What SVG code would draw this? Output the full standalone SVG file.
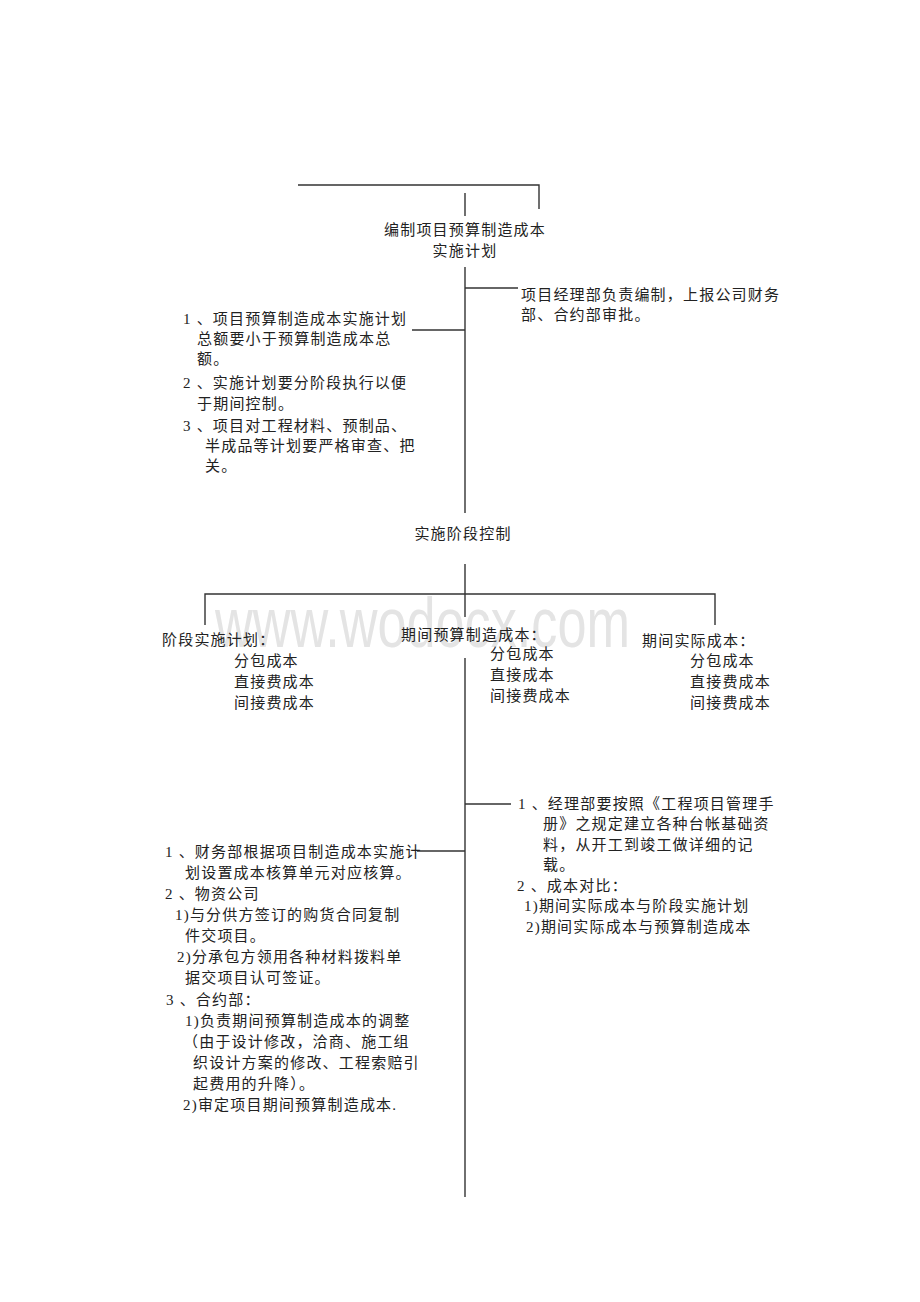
<svg xmlns="http://www.w3.org/2000/svg" width="920" height="1302" viewBox="0 0 920 1302">
<style>
.t{font-family:"Liberation Serif","Noto Sans CJK SC",sans-serif;font-size:15px;letter-spacing:1.2px;fill:#222}
.m{text-anchor:middle}
.ln{fill:none;stroke:#333;stroke-width:1.4}
.wm{font-family:"Liberation Sans",sans-serif;font-size:70px;fill:#e4e4e4}
</style>
<rect width="920" height="1302" fill="#fff"/>
<text class="wm" x="215" y="647" textLength="415" lengthAdjust="spacingAndGlyphs">www.wodocx.com</text>
<g id="connectors">
<path class="ln" d="M298 185H539V209"/>
<path class="ln" d="M465 193V216"/>
<path class="ln" d="M465 267V513"/>
<path class="ln" d="M465 288H518"/>
<path class="ln" d="M412 330H465"/>
<path class="ln" d="M465 564V617"/>
<path class="ln" d="M205 625V594H715V625"/>
<path class="ln" d="M465 658V1197"/>
<path class="ln" d="M465 804H511"/>
<path class="ln" d="M417 851H465"/>
</g>
<g id="node-plan">
<text class="t m" x="465" y="235">编制项目预算制造成本</text>
<text class="t m" x="465" y="256">实施计划</text>
</g>
<g id="node-approve">
<text class="t" x="521" y="300">项目经理部负责编制，上报公司财务</text>
<text class="t" x="521" y="320">部、合约部审批。</text>
</g>
<g id="node-plan-rules">
<text class="t" x="183" y="324">1 、项目预算制造成本实施计划</text>
<text class="t" x="197" y="344">总额要小于预算制造成本总</text>
<text class="t" x="197" y="364">额。</text>
<text class="t" x="183" y="388">2 、实施计划要分阶段执行以便</text>
<text class="t" x="197" y="409">于期间控制。</text>
<text class="t" x="183" y="431">3 、项目对工程材料、预制品、</text>
<text class="t" x="205" y="451">半成品等计划要严格审查、把</text>
<text class="t" x="205" y="471">关。</text>
</g>
<g id="node-control">
<text class="t m" x="463" y="539">实施阶段控制</text>
</g>
<g id="node-stage">
<text class="t" x="162" y="645">阶段实施计划：</text>
<text class="t" x="234" y="666">分包成本</text>
<text class="t" x="234" y="687">直接费成本</text>
<text class="t" x="234" y="708">间接费成本</text>
</g>
<g id="node-budget">
<text class="t" x="401" y="640">期间预算制造成本：</text>
<text class="t" x="490" y="659">分包成本</text>
<text class="t" x="490" y="680">直接成本</text>
<text class="t" x="490" y="701">间接费成本</text>
</g>
<g id="node-actual">
<text class="t" x="642" y="646">期间实际成本：</text>
<text class="t" x="690" y="666">分包成本</text>
<text class="t" x="690" y="687">直接费成本</text>
<text class="t" x="690" y="708">间接费成本</text>
</g>
<g id="node-ledger">
<text class="t" x="518" y="809">1 、经理部要按照《工程项目管理手</text>
<text class="t" x="543" y="829">册》之规定建立各种台帐基础资</text>
<text class="t" x="543" y="850">料，从开工到竣工做详细的记</text>
<text class="t" x="543" y="870">载。</text>
<text class="t" x="517" y="891">2 、成本对比：</text>
<text class="t" x="524" y="911">1)期间实际成本与阶段实施计划</text>
<text class="t" x="526" y="932">2)期间实际成本与预算制造成本</text>
</g>
<g id="node-departments">
<text class="t" x="165" y="857">1 、财务部根据项目制造成本实施计</text>
<text class="t" x="185" y="878">划设置成本核算单元对应核算。</text>
<text class="t" x="165" y="899">2 、物资公司</text>
<text class="t" x="175" y="920">1)与分供方签订的购货合同复制</text>
<text class="t" x="185" y="941">件交项目。</text>
<text class="t" x="177" y="962">2)分承包方领用各种材料拨料单</text>
<text class="t" x="185" y="983">据交项目认可签证。</text>
<text class="t" x="166" y="1005">3 、合约部：</text>
<text class="t" x="185" y="1026">1)负责期间预算制造成本的调整</text>
<text class="t" x="183" y="1047">（由于设计修改，洽商、施工组</text>
<text class="t" x="193" y="1068">织设计方案的修改、工程索赔引</text>
<text class="t" x="193" y="1089">起费用的升降）。</text>
<text class="t" x="183" y="1110">2)审定项目期间预算制造成本.</text>
</g>
</svg>
